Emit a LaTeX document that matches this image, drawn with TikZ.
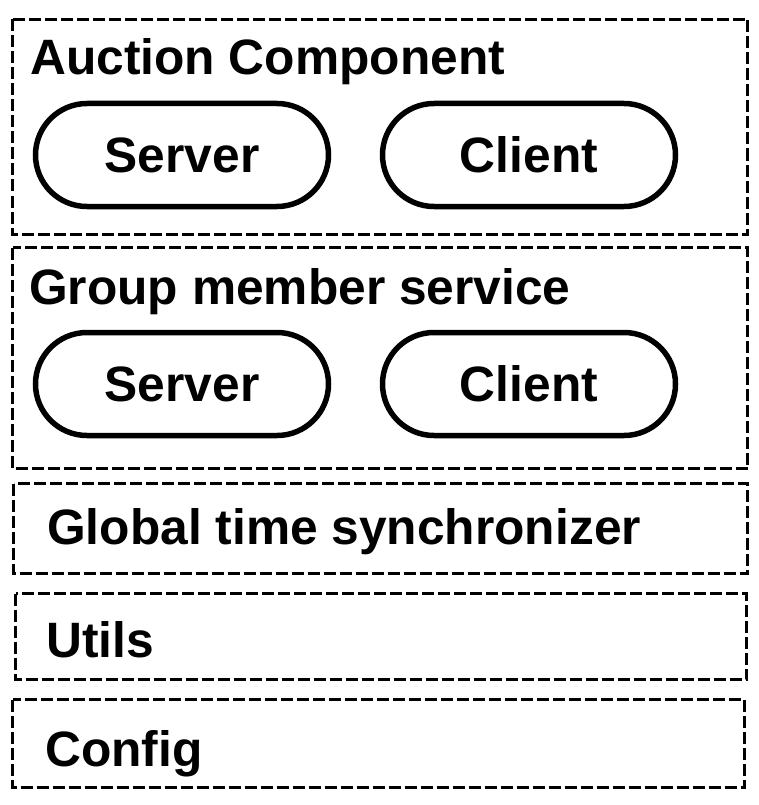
\documentclass[tikz,border=0pt]{standalone}
\usepackage{fontspec}
\setmainfont{Liberation Sans}
\begin{document}
\begin{tikzpicture}[x=1pt,y=-1pt,
  dbox/.style={draw=black,line width=3.4pt,dash pattern=on 12pt off 4pt},
  pill/.style={draw=black,line width=5.5pt,rounded corners=51.5pt,minimum width=293pt,minimum height=103pt,inner sep=0pt,font=\bfseries\fontsize{49.7}{55}\selectfont},
  title/.style={anchor=base west,inner sep=0pt,font=\bfseries\fontsize{49.7}{55}\selectfont}]
\useasboundingbox (0,0) rectangle (759,805);
% containers
\draw[dbox] (12.5,19.5) rectangle (747.5,234.5);
\draw[dbox] (12.5,247.5) rectangle (747.5,468.5);
\draw[dbox] (13.5,483.5) rectangle (747.5,573.5);
\draw[dbox] (15.5,593.5) rectangle (746.5,679.5);
\draw[dbox] (12.5,699.5) rectangle (744.5,787.5);
% titles
\node[title] (t1) at (30,75) {Auction Component};
\node[title] (t2) at (29,304) {Group member service};
\node[title] (t3) at (47,544) {Global time synchronizer};
\node[title] (t4) at (46,657) {Utils};
\node[title] (t5) at (45,766) {Config};
% pills
\node[pill] (s1) at (182,155) {Server};
\node[pill] (c1) at (529,155) {Client};
\node[pill] (s2) at (182,384) {Server};
\node[pill] (c2) at (529,384) {Client};
\end{tikzpicture}
\end{document}
